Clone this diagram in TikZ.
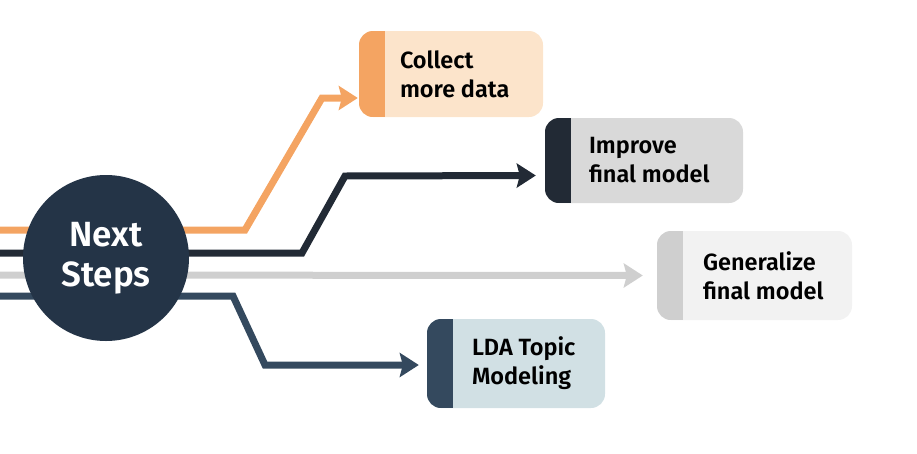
\documentclass[tikz,border=0pt]{standalone}
\usepackage{fontspec}
\setmainfont{Fira Sans}[BoldFont={Fira Sans SemiBold}]
\usetikzlibrary{arrows.meta, positioning}
\definecolor{orangeline}{HTML}{F4A462}
\definecolor{orangefill}{HTML}{FCE4CB}
\definecolor{darkline}{HTML}{222A35}
\definecolor{grayfill}{HTML}{D9D9D9}
\definecolor{lightline}{HTML}{CFCFCF}
\definecolor{lightfill}{HTML}{F2F2F2}
\definecolor{navyline}{HTML}{34495E}
\definecolor{navyfill}{HTML}{D1E0E4}
\definecolor{circlefill}{HTML}{243447}
\tikzstyle{stepbox} = [rectangle, rounded corners=14pt, inner sep=0pt]
\tikzstyle{steptext} = [align=left, inner sep=0pt, font=\fontsize{23.5}{29}\selectfont\bfseries]
\tikzstyle{arrow} = [line width=7pt, -{Stealth[length=19pt,width=24pt,inset=3pt]}]
\tikzset{stripe/.style={path picture={\fill[#1, sharp corners] (path picture bounding box.south west) rectangle ([xshift=26pt]path picture bounding box.north west);}}}

\begin{document}
\begin{tikzpicture}[x=1pt, y=-1pt]
\useasboundingbox (0,0) rectangle (917,453);

% boxes
\node(collect)[stepbox, fill=orangefill, stripe=orangeline, minimum width=184pt, minimum height=86pt] at (451,74) {};
\node(improve)[stepbox, fill=grayfill, stripe=darkline, minimum width=198pt, minimum height=85pt] at (644,160.5) {};
\node(general)[stepbox, fill=lightfill, stripe=lightline, minimum width=195pt, minimum height=89pt] at (754.5,275.5) {};
\node(lda)[stepbox, fill=navyfill, stripe=navyline, minimum width=178pt, minimum height=89pt] at (516,363.5) {};
\node(collecttext)[steptext, right=41pt of collect.west]{Collect\\more data};
\node(improvetext)[steptext, right=44pt of improve.west]{Improve\\final model};
\node(generaltext)[steptext, right=46pt of general.west]{Generalize\\final model};
\node(ldatext)[steptext, right=45pt of lda.west]{LDA Topic\\Modeling};

% lines
\coordinate (o1) at (0,230);
\coordinate (o2) at (0,253);
\coordinate (o3) at (0,275);
\coordinate (o4) at (0,296);
\draw[arrow, orangeline] (o1) -- (245,230) -- (322,98) -- ([xshift=-1pt,yshift=-24pt]collect.west);
\draw[arrow, darkline] (o2) -- (302,253) -- (345,176) -- ([xshift=-9pt,yshift=-15pt]improve.west);
\draw[arrow, lightline] (o3) -- ([xshift=-14pt]general.west);
\draw[arrow, navyline] (o4) -- (233,296) -- (265,365) -- ([xshift=-8pt,yshift=-1.5pt]lda.west);

\node(steps)[circle, fill=circlefill, minimum size=166pt, text=white, align=center, font=\fontsize{35}{40}\selectfont\bfseries] at (106,258) {Next\\Steps};

\end{tikzpicture}
\end{document}
